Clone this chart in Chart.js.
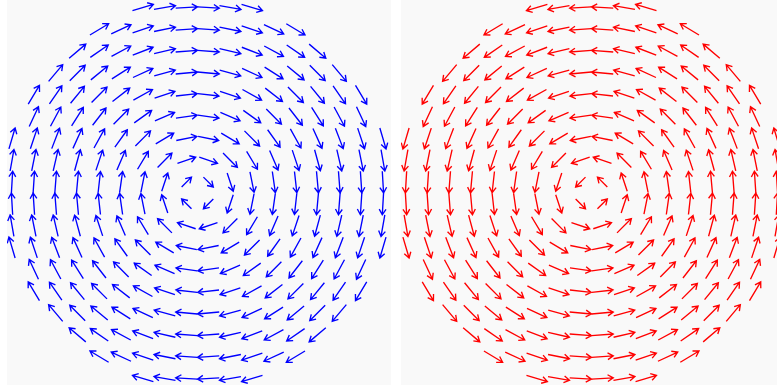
<!DOCTYPE html>
<html>
<head>
<meta charset="utf-8">
<script src="https://cdn.jsdelivr.net/npm/chart.js@4.4.1/dist/chart.umd.min.js"></script>
<style>
  html, body { margin: 0; padding: 0; background: #ffffff; overflow: hidden; width: 777px; height: 389px; }
  .panel { position: absolute; top: 0; width: 384px; height: 385px; background: #f9f9f9; }
  #left { left: 7px; }
  #right { left: 401px; }
</style>
</head>
<body>
<div class="panel" id="left"><canvas id="vortex-cw" width="384" height="385"></canvas></div>
<div class="panel" id="right"><canvas id="vortex-ccw" width="384" height="385"></canvas></div>
<script>
// grid of sample points (columns left->right, rows top->bottom)
var gridX = [-8.5, -7.5, -6.5, -5.5, -4.5, -3.5, -2.5, -1.5, -0.5, 0.5, 1.5, 2.5, 3.5, 4.5, 5.5, 6.5, 7.5, 8.5];
var gridY = [8.5, 7.5, 6.5, 5.5, 4.5, 3.5, 2.5, 1.5, 0.5, -0.5, -1.5, -2.5, -3.5, -4.5, -5.5, -6.5, -7.5, -8.5];
// how many arrows sit in each row (centred)
var rowSpan = [6, 10, 12, 14, 16, 16, 18, 18, 18, 18, 18, 18, 16, 16, 14, 12, 10, 6];
// arrow length (grid units) by distance from the centre
var bandRadius = [1, 2, 2.5, 3.5, 5, 99];
var bandLength = [0.64, 0.88, 0.93, 0.96, 0.98, 1.0];
// +1 = clockwise, -1 = counter-clockwise
var spins = [1, -1];
var colors = ['#0000ff', '#ff0000'];

var xRange = [-8.73, 8.87];
var yRange = [-8.80, 8.845];

function buildPoints() {
    var pts = [];
    for (var i = 0; i < gridY.length; i++) {
        var start = (gridX.length - rowSpan[i]) / 2;
        for (var j = start; j < start + rowSpan[i]; j++) {
            pts.push({x: gridX[j], y: gridY[i]});
        }
    }
    return pts;
}

function arrowLength(r) {
    for (var k = 0; k < bandRadius.length; k++) {
        if (r < bandRadius[k]) return bandLength[k];
    }
    return bandLength[bandLength.length - 1];
}

var arrowPlugin = {
    id: 'arrows',
    afterDatasetsDraw: function (chart) {
        var ctx = chart.ctx;
        var sx = chart.scales.x;
        var sy = chart.scales.y;
        var area = chart.chartArea;
        var ds = chart.data.datasets[0];
        var spin = ds.spin;
        ctx.save();
        ctx.beginPath();
        ctx.rect(area.left, area.top, area.right - area.left, area.bottom - area.top);
        ctx.clip();
        ctx.strokeStyle = ds.borderColor;
        ctx.lineWidth = 1.35;
        ctx.lineCap = 'butt';
        ds.data.forEach(function (p) {
            var r = Math.sqrt(p.x * p.x + p.y * p.y);
            var len = arrowLength(r);
            var u = spin * p.y / r;
            var v = -spin * p.x / r;
            var x0 = sx.getPixelForValue(p.x - u * len / 2);
            var y0 = sy.getPixelForValue(p.y - v * len / 2);
            var x1 = sx.getPixelForValue(p.x + u * len / 2);
            var y1 = sy.getPixelForValue(p.y + v * len / 2);
            var a = Math.atan2(y1 - y0, x1 - x0);
            var head = 6.5, spread = 0.55;
            ctx.beginPath();
            ctx.moveTo(x0, y0);
            ctx.lineTo(x1, y1);
            ctx.moveTo(x1 - head * Math.cos(a - spread), y1 - head * Math.sin(a - spread));
            ctx.lineTo(x1, y1);
            ctx.lineTo(x1 - head * Math.cos(a + spread), y1 - head * Math.sin(a + spread));
            ctx.stroke();
        });
        ctx.restore();
    }
};

function makeChart(id, idx) {
    var ctx = document.getElementById(id);
    return new Chart(ctx, {
        type: 'scatter',
        data: {
            datasets: [{
                label: 'field',
                data: buildPoints(),
                borderColor: colors[idx],
                pointRadius: 0,
                pointHoverRadius: 0,
                spin: spins[idx]
            }]
        },
        options: {
            responsive: false,
            animation: false,
            events: [],
            layout: { padding: 0 },
            plugins: { legend: { display: false }, tooltip: { enabled: false } },
            scales: {
                x: { type: 'linear', min: xRange[0], max: xRange[1], display: false },
                y: { type: 'linear', min: yRange[0], max: yRange[1], display: false }
            }
        },
        plugins: [arrowPlugin]
    });
}

makeChart('vortex-cw', 0);
makeChart('vortex-ccw', 1);
</script>
</body>
</html>
